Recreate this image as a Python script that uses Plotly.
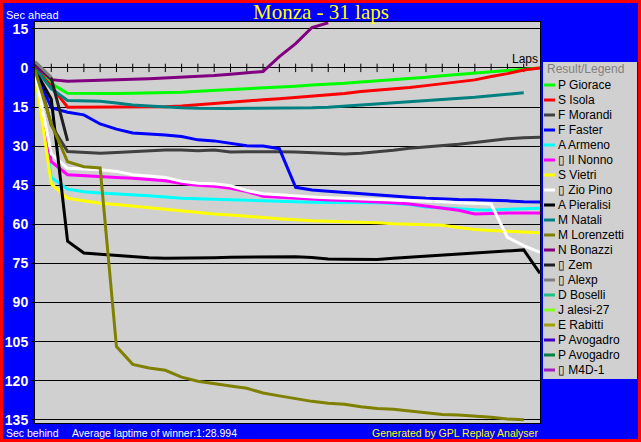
import plotly.graph_objects as go

# ---------------- data ----------------
TITLE = "Monza - 31 laps"
LAPS = list(range(0, 32))

DRIVERS = ["P Giorace", "S Isola", "F Morandi", "F Faster", "A Armeno", "\u25af Il Nonno",
           "S Vietri", "\u25af Zio Pino", "A Pieralisi", "M Natali", "M Lorenzetti",
           "N Bonazzi", "\u25af Zem", "\u25af Alexp", "D Boselli", "J alesi-27",
           "E Rabitti", "P Avogadro", "P Avogadro", "\u25af M4D-1"]
COLORS = ["#00FF00", "#FF0000", "#404040", "#0000FF", "#00FFFF", "#FF00FF",
          "#FFFF00", "#FFFFFF", "#000000", "#008080", "#808000",
          "#800080", "#202020", "#808080", "#20C080", "#80FF20",
          "#A0A000", "#4000C0", "#008040", "#A020C0"]

# seconds behind the winner's average pace (negative = ahead), one value per lap from lap 0
GIORACE = [-0.5, 6.0, 9.7, 9.8, 9.8, 9.8, 9.7, 9.6, 9.5, 9.3, 9.0, 8.7, 8.3, 8.0, 7.8, 7.4,
           7.0, 6.6, 6.3, 5.9, 5.4, 5.0, 4.6, 4.2, 3.6, 3.0, 2.5, 2.0, 1.3, 0.8, 0.4, 0.0]
ISOLA = [0.0, 7.0, 15.1, 15.1, 15.1, 15.1, 15.0, 15.0, 14.9, 14.6, 14.1, 13.5, 13.0, 12.5, 12.2, 11.8,
         11.3, 11.0, 10.5, 9.8, 9.1, 8.6, 8.1, 7.5, 6.8, 6.1, 5.4, 4.6, 3.3, 2.2, 0.8, 0.0]
MORANDI = [-1.8, 22.0, 32.1, 32.5, 32.7, 32.5, 32.1, 31.8, 31.5, 31.5, 31.8, 31.5, 32.3, 32.2, 32.1, 32.2,
           32.3, 32.5, 32.8, 33.0, 32.7, 32.2, 31.6, 30.8, 30.3, 29.9, 29.3, 28.6, 27.9, 27.2, 26.8, 26.6]
FASTER = [0.5, 15.3, 17.0, 18.0, 21.5, 23.5, 25.0, 25.3, 25.7, 26.3, 27.6, 28.0, 29.0, 29.9, 30.0, 31.0,
          45.8, 46.8, 47.3, 47.8, 48.1, 48.8, 49.3, 49.6, 50.0, 50.3, 50.5, 50.6, 50.7, 51.0, 51.3, 51.4]
ARMENO = [1.0, 42.0, 46.5, 47.5, 48.0, 48.3, 48.7, 49.0, 49.5, 50.0, 50.2, 50.4, 50.6, 50.9, 51.1, 51.3,
          51.4, 51.5, 51.6, 51.6, 51.5, 51.7, 52.0, 52.4, 53.4, 53.8, 54.2, 54.4, 54.5, 54.2, 54.0, 53.8]
NONNO = [1.2, 36.0, 41.0, 41.4, 41.7, 42.0, 42.3, 42.8, 43.3, 44.3, 45.0, 45.4, 46.2, 47.4, 49.2, 49.6,
         50.0, 50.4, 50.7, 50.9, 51.1, 51.4, 51.7, 52.2, 53.0, 53.6, 54.6, 56.0, 55.8, 55.7, 55.7, 55.7]
VIETRI = [1.5, 44.5, 50.0, 51.0, 51.9, 52.4, 53.0, 53.6, 54.3, 55.0, 55.6, 56.0, 56.4, 57.0, 57.4, 57.9,
          58.3, 58.6, 58.8, 59.0, 59.1, 59.4, 59.8, 60.0, 60.2, 60.4, 61.2, 62.0, 62.4, 62.7, 63.0, 63.2]
ZIOPINO = [1.3, 33.0, 38.5, 38.8, 39.1, 39.7, 41.0, 41.5, 42.0, 43.5, 44.2, 44.4, 45.2, 47.0, 48.3, 48.7,
           49.2, 49.5, 49.8, 50.0, 50.1, 50.3, 50.5, 50.7, 51.0, 51.3, 51.7, 52.0, 52.2, 65.0, 68.2, 70.8]
PIERALISI = [0.8, 12.0, 66.5, 71.0, 71.5, 72.0, 72.5, 72.8, 73.0, 73.0, 73.0, 72.8, 72.6, 72.6, 72.5, 72.4,
             72.4, 72.7, 73.3, 73.4, 73.5, 73.5, 73.0, 72.6, 72.2, 71.7, 71.3, 71.0, 70.5, 70.2, 69.8, 78.8]
NATALI = [0.0, 8.0, 12.5, 12.6, 12.8, 13.5, 14.2, 14.6, 15.0, 15.3, 15.5, 15.6, 15.6, 15.5, 15.5, 15.5,
          15.4, 15.3, 15.1, 14.7, 14.2, 13.9, 13.5, 13.1, 12.6, 12.2, 11.8, 11.3, 10.7, 10.1, 9.5]
LORENZETTI = [0.8, 21.5, 36.0, 37.9, 38.4, 106.9, 113.7, 115.1, 116.0, 118.6, 120.2, 121.0, 122.0, 122.9, 124.7, 125.8,
              126.8, 127.9, 128.6, 129.0, 130.0, 130.6, 130.9, 131.6, 132.4, 132.9, 133.1, 133.5, 134.0, 134.7, 135.0]
BONAZZI = [-1.0, 4.5, 5.1, 5.0, 4.8, 4.6, 4.4, 4.2, 3.9, 3.6, 3.2, 2.9, 2.4, 1.9, 1.4, -4.3,
           -9.3, -15.5, -17.3]
ZEM = [-2.2, 4.0, 28.0]
ALEXP = [-2.4, 3.6]
EMPTY = []

SERIES = [GIORACE, ISOLA, MORANDI, FASTER, ARMENO, NONNO, VIETRI, ZIOPINO, PIERALISI,
          NATALI, LORENZETTI, BONAZZI, ZEM, ALEXP, EMPTY, EMPTY, EMPTY, EMPTY, EMPTY, EMPTY]

Y_TICKS = [-15, 0, 15, 30, 45, 60, 75, 90, 105, 120, 135]
Y_TICKTEXT = [str(abs(v)) for v in Y_TICKS]
AVG_LAPTIME = "1:28.994"

# ---------------- figure ----------------
W, H = 641, 442
def px(x):
    return x / W
def py(y):
    return 1 - y / H

fig = go.Figure()

# lap tick marks along the zero line
fig.add_trace(go.Scatter(
    x=LAPS[1:-1], y=[0] * len(LAPS[1:-1]), mode="markers",
    marker=dict(symbol="line-ns", size=6, line=dict(color="black", width=1)),
    hoverinfo="skip", showlegend=False))

for name, col, vals in zip(DRIVERS, COLORS, SERIES):
    if not vals:
        continue
    fig.add_trace(go.Scatter(
        x=LAPS[:len(vals)], y=vals, mode="lines", name=name,
        line=dict(color=col, width=3), showlegend=False))

annotations = [
    dict(text=TITLE, x=0.5, y=py(12), xref="paper", yref="paper", showarrow=False,
         xanchor="center", yanchor="middle",
         font=dict(family="Liberation Serif", size=21, color="#FFFF00")),
    dict(text="Sec ahead", x=px(4), y=py(15), xref="paper", yref="paper", showarrow=False,
         xanchor="left", yanchor="middle",
         font=dict(family="Liberation Sans", size=11, color="white")),
    dict(text="Sec behind", x=px(4), y=py(433), xref="paper", yref="paper", showarrow=False,
         xanchor="left", yanchor="middle",
         font=dict(family="Liberation Sans", size=10.5, color="white")),
    dict(text="Average laptime of winner:" + AVG_LAPTIME, x=px(70), y=py(433), xref="paper",
         yref="paper", showarrow=False, xanchor="left", yanchor="middle",
         font=dict(family="Liberation Sans", size=10.5, color="white")),
    dict(text="Generated by GPL Replay Analyser", x=px(540), y=py(433), xref="paper",
         yref="paper", showarrow=False, xanchor="right", yanchor="middle",
         font=dict(family="Liberation Sans", size=10.5, color="#FFFF00")),
    dict(text="Laps", x=LAPS[-1], y=0, xref="x", yref="y", showarrow=False,
         xanchor="right", yanchor="bottom", yshift=0,
         font=dict(family="Liberation Sans", size=12, color="black")),
    dict(text="Result/Legend", x=px(545), y=py(69), xref="paper", yref="paper",
         showarrow=False, xanchor="left", yanchor="middle",
         font=dict(family="Liberation Sans", size=12, color="#808080")),
]

shapes = [
    # legend panel
    dict(type="rect", xref="paper", yref="paper", x0=px(543), x1=px(637), y0=py(62), y1=py(379),
         fillcolor="#D0D0D0", line=dict(width=0), layer="below"),
    # outer red border
    dict(type="rect", xref="paper", yref="paper", x0=0, x1=1, y0=0, y1=1,
         line=dict(color="#FF0000", width=6), fillcolor="rgba(0,0,0,0)"),
]

for i, (name, col) in enumerate(zip(DRIVERS, COLORS)):
    yc = 85 + 15 * i
    shapes.append(dict(type="line", xref="paper", yref="paper", x0=px(544), x1=px(555),
                       y0=py(yc), y1=py(yc), line=dict(color=col, width=3)))
    annotations.append(dict(text=name, x=px(556), y=py(yc), xref="paper", yref="paper",
                            showarrow=False, xanchor="left", yanchor="middle",
                            font=dict(family="Liberation Sans", size=12, color="black")))

fig.update_layout(
    width=W, height=H,
    margin=dict(l=0, r=0, t=0, b=0, autoexpand=False),
    paper_bgcolor="#0000FF", plot_bgcolor="#D0D0D0",
    showlegend=False,
    xaxis=dict(domain=[px(35), px(540)], range=[0, LAPS[-1]], showticklabels=False,
               showgrid=False, zeroline=False, ticks="", showline=True, mirror=True,
               linecolor="black", linewidth=1, automargin=False),
    yaxis=dict(domain=[py(423), py(22)], range=[136.2, -17.6], tickvals=Y_TICKS,
               ticktext=Y_TICKTEXT, showgrid=True, gridcolor="black", gridwidth=1,
               zeroline=False, ticks="outside", ticklen=3, tickcolor="black",
               showline=True, mirror=True, linecolor="black", linewidth=1,
               tickfont=dict(family="Liberation Sans", size=14, color="white", weight="bold"),
               automargin=False),
    annotations=annotations, shapes=shapes,
)

fig.write_html("out.html", config={"displayModeBar": False},
               post_script="document.body.style.margin='0';document.body.style.overflow='hidden';")
